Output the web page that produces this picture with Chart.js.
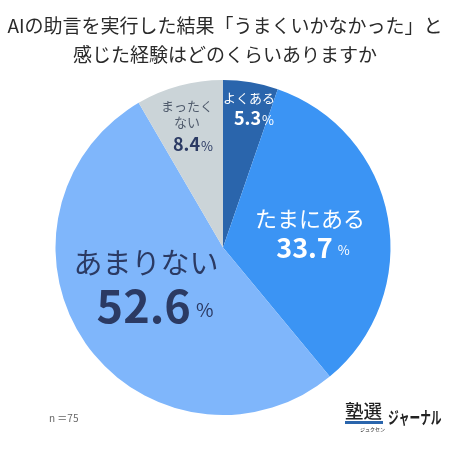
<!DOCTYPE html>
<html lang="ja">
<head>
<meta charset="utf-8">
<script src="https://cdn.jsdelivr.net/npm/chart.js@4"></script>
<style>
html, body { margin: 0; padding: 0; background: #fff; }
#wrap { position: relative; width: 450px; height: 450px; }
</style>
</head>
<body>
<div id="wrap"><canvas id="pieChart" width="450" height="450"></canvas></div>
<script>
const categories = ['よくある', 'たまにある', 'あまりない', 'まったくない'];
const shares = [5.3, 33.7, 52.6, 8.4];
const sliceColors = ['#2a65ac', '#3b94f4', '#7fb6fb', '#cbd4d8'];
const titleLines = ['AIの助言を実行した結果「うまくいかなかった」と', '感じた経験はどのくらいありますか'];
const sampleNote = 'n ＝75';

const JP = '"Noto Sans CJK JP", "Noto Sans", sans-serif';
const NAVY = '#2b3a63';
const GREY = '#4f5a6b';

// x, y are the offset from the pie centre
const sliceLabels = [
    { lines: ['よくある'], x: 26, y: -149, size: 13, color: '#fff', valX: 31, valY: -129, valSize: 18, pctSize: 13, valColor: '#fff' },
    { lines: ['たまにある'], x: 87, y: -29, size: 22, color: '#fff', valX: 90, valY: 0, valSize: 27, pctSize: 13, valColor: '#fff' },
    { lines: ['あまりない'], x: -77, y: 15, size: 29, color: NAVY, valX: -68, valY: 58, valSize: 45, pctSize: 19, valColor: NAVY },
    { lines: ['まったく', 'ない'], x: -36, y: -141, size: 13, color: GREY, valX: -30, valY: -103, valSize: 18, pctSize: 13, valColor: NAVY }
];

const textPlugin = {
    id: 'textPlugin',
    afterDraw(chart) {
        const ctx = chart.ctx;
        const arc = chart.getDatasetMeta(0).data[0];
        const cx = arc.x, cy = arc.y;
        ctx.save();
        ctx.textBaseline = 'middle';

        // title
        ctx.textAlign = 'center';
        ctx.fillStyle = '#2a2a2a';
        ctx.font = '400 19px ' + JP;
        ctx.fillText(titleLines[0], 225, 26);
        ctx.fillText(titleLines[1], 225, 55);

        // slice labels
        sliceLabels.forEach((l, i) => {
            ctx.textAlign = 'center';
            ctx.fillStyle = l.color;
            ctx.font = '400 ' + l.size + 'px ' + JP;
            l.lines.forEach((line, j) => {
                ctx.fillText(line, cx + l.x, cy + l.y + j * (l.size + 3));
            });
            const val = shares[i].toFixed(1);
            ctx.font = '700 ' + l.valSize + 'px ' + JP;
            const valW = ctx.measureText(val).width;
            ctx.font = '400 ' + l.pctSize + 'px ' + JP;
            const pctW = ctx.measureText('%').width;
            const gap = l.valSize > 20 ? 5 : 1;
            const left = cx + l.valX - (valW + gap + pctW) / 2;
            ctx.textAlign = 'left';
            ctx.fillStyle = l.valColor;
            ctx.font = '700 ' + l.valSize + 'px ' + JP;
            ctx.fillText(val, left, cy + l.valY);
            ctx.font = '400 ' + l.pctSize + 'px ' + JP;
            ctx.fillText('%', left + valW + gap, cy + l.valY + l.valSize * 0.1);
        });

        // sample size
        ctx.textAlign = 'left';
        ctx.fillStyle = '#666';
        ctx.font = '400 10px ' + JP;
        ctx.fillText(sampleNote, 49, 418);

        // logo
        ctx.fillStyle = '#222';
        ctx.font = '500 18.5px ' + JP;
        ctx.fillText('塾選', 345, 411);
        ctx.font = '400 5px ' + JP;
        ctx.fillText('ジュクセン', 360, 429);
        ctx.fillStyle = '#2a65ac';
        ctx.fillRect(345, 421, 38, 3);
        // logotype is narrower than the font, squeeze it
        ctx.fillStyle = '#222';
        ctx.font = '700 17px ' + JP;
        ctx.translate(388, 418);
        ctx.scale(0.63, 1);
        ctx.fillText('ジャーナル', 0, 0);
        ctx.restore();
    }
};

new Chart(document.getElementById('pieChart').getContext('2d'), {
    type: 'pie',
    data: {
        labels: categories,
        datasets: [{
            data: shares,
            backgroundColor: sliceColors,
            borderWidth: 0
        }]
    },
    options: {
        responsive: false,
        animation: false,
        layout: { padding: { left: 55, right: 59, top: 80, bottom: 35 } },
        plugins: {
            legend: { display: false },
            tooltip: { enabled: false }
        }
    },
    plugins: [textPlugin]
});
</script>
</body>
</html>
